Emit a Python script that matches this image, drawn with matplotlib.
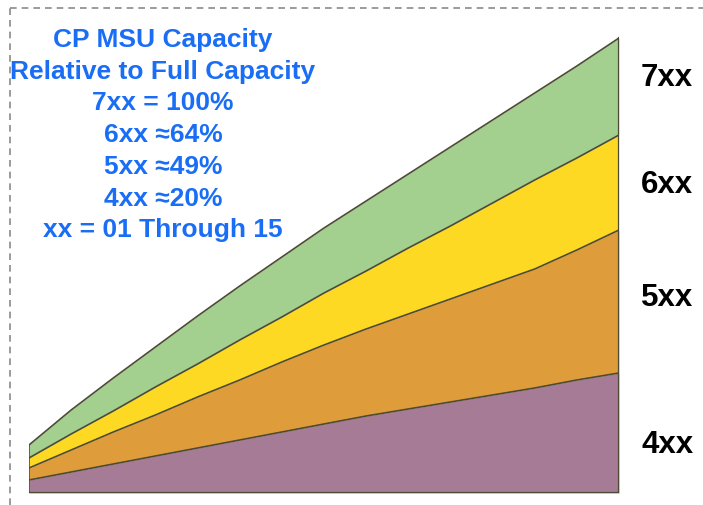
import matplotlib.pyplot as plt
from matplotlib.lines import Line2D

# capacity setting xx = 01 .. 15
settings = list(range(1, 16))

# cumulative tops of each band (arbitrary units)
top_4xx = [13, 21, 29, 37, 45, 53, 61, 69, 77, 84, 91, 98, 105, 113, 120]
top_5xx = [25, 43, 61, 78, 96, 113, 131, 148, 164, 179, 194, 209, 224, 243, 263]
top_6xx = [35, 59, 82, 106, 129, 153, 176, 200, 222, 245, 267, 290, 313, 335, 358]
top_7xx = [48, 83, 115, 146, 177, 207, 236, 265, 292, 319, 346, 373, 400, 427, 455]

band_names = ["4xx", "5xx", "6xx", "7xx"]
band_colors = ["#a67b95", "#df9c3a", "#fdd923", "#a3cf8f"]
label_y = [445, 298, 185, 78]   # label centres, pixels from top

title_lines = ["CP MSU Capacity", "Relative to Full Capacity", "7xx = 100%",
               "6xx \u224864%", "5xx \u224849%", "4xx \u224820%",
               "xx = 01 Through 15"]

plt.rcParams['font.family'] = ['Liberation Sans', 'DejaVu Sans']

fig = plt.figure(figsize=(7.03, 5.05), dpi=100)
ax = fig.add_axes([29/703, 12/505, 590/703, 493/505])

tops = [top_4xx, top_5xx, top_6xx, top_7xx]
lower = [0]*len(settings)
edge = "#4d4a35"
for t, c in zip(tops, band_colors):
    ax.fill_between(settings, lower, t, color=c, lw=0)
    ax.plot(settings, t, color=edge, lw=1.2)
    lower = t
ax.plot([1, 1], [0, top_7xx[0]], color=edge, lw=1.2)
ax.plot([15, 15], [0, top_7xx[-1]], color=edge, lw=1.6)
ax.plot([1, 15], [0, 0], color=edge, lw=1.6)

ax.set_xlim(1, 15)
ax.set_ylim(0, 493)
ax.axis("off")

for name, y in zip(band_names, label_y):
    fig.text(641/703, 1 - y/505, name, fontsize=22.5, fontweight="bold",
             color="black", va="center", ha="left")

for i, s in enumerate(title_lines):
    fig.text(163/703, 1 - (40 + i*31.7)/505, s, fontsize=19, fontweight="bold",
             color="#1a6ef5", ha="center", va="center")

# dashed frame on the left and top
fig.add_artist(Line2D([10/703, 10/703], [0, 1 - 8/505], transform=fig.transFigure,
                      color="#8a8a8a", lw=1.2, ls=(0, (4, 3))))
fig.add_artist(Line2D([10/703, 1], [1 - 8/505, 1 - 8/505], transform=fig.transFigure,
                      color="#8a8a8a", lw=1.2, ls=(0, (4, 3))))

fig.savefig("out.png", dpi=100)
